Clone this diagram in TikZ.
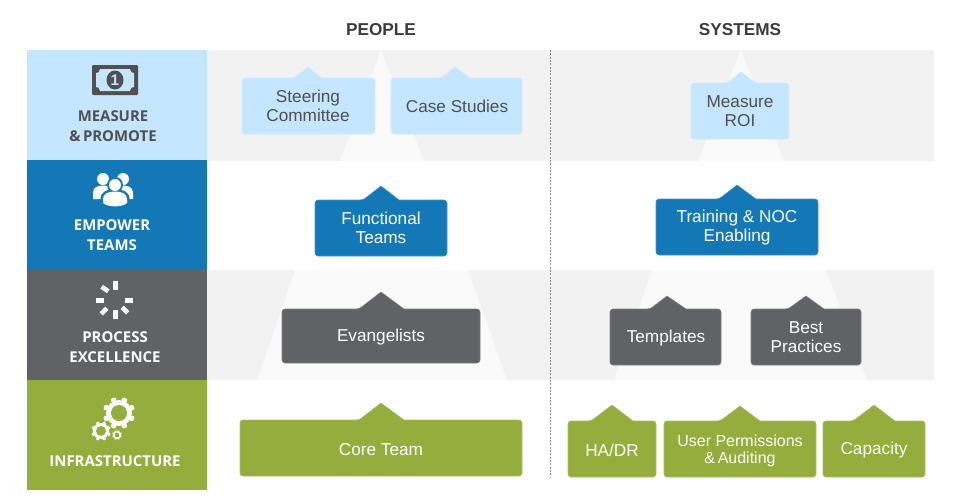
\documentclass[tikz,border=0pt]{standalone}
\usepackage{fontspec}
\setmainfont{Liberation Sans}
\newfontfamily\labfont{Open Sans}
\definecolor{lblue}{HTML}{C5E6FF}
\definecolor{mblue}{HTML}{1578B6}
\definecolor{dgray}{HTML}{616265}
\definecolor{mgreen}{HTML}{95AD3D}
\definecolor{band}{HTML}{F2F2F2}
\definecolor{pyr}{HTML}{FAFAFA}
\definecolor{inkd}{HTML}{505050}
\newcommand\tagshape[9]{%
  \filldraw[fill=#1,draw=#1!80!white,line width=0.4pt,rounded corners=2.2] (#2,#3) -- (#8,#3) [sharp corners] -- (#6,#7) -- (#9,#3) [rounded corners=2.2] -- (#4,#3) -- (#4,#5) -- (#2,#5) -- cycle;}
\newcommand\gearicon[4]{% x y body-radius hole-radius
  \begin{scope}[shift={(#1,#2)}]
    \fill[white] (0,0) circle[radius=#3];
    \foreach \a in {0,45,...,315}
      \fill[white,rotate=\a+22.5,rounded corners=0.8] (#3-1,-0.2*#3) rectangle (1.24*#3,0.2*#3);
    \fill[mgreen] (0,0) circle[radius=#4];
  \end{scope}}
\tikzset{
  boxtext/.style={align=center,inner sep=0pt,font=\fontsize{12.9}{14.25}\selectfont},
  lighttext/.style={boxtext,text=inkd},
  whitetext/.style={boxtext,text=white},
  headtext/.style={inner sep=0pt,text=HeadInk,font=\fontsize{12.9}{14}\selectfont\bfseries},
  sidelabel/.style={align=center,inner sep=0pt,font=\labfont\fontsize{11.2}{15}\selectfont\bfseries},
  dash seg/.style={fill=white}
}
\colorlet{HeadInk}{black!77}
\begin{document}
\begin{tikzpicture}[x=0.75pt,y=-0.75pt]
\useasboundingbox (0,0) rectangle (960,500);
% bands
\fill[band] (207,50) rectangle (934,161);
\fill[band] (207,270) rectangle (934,380);
% pyramids
\fill[pyr] (381,50) -- (424,161) -- (340,161) -- cycle;
\fill[pyr] (741,50) -- (784,161) -- (698,161) -- cycle;
\fill[pyr] (295,270) -- (468,270) -- (507,380) -- (257,380) -- cycle;
\fill[pyr] (652,270) -- (826,270) -- (867,380) -- (614,380) -- cycle;
% left column
\fill[lblue] (27,50) rectangle (207,160);
\fill[mblue] (27,160) rectangle (207,270);
\fill[dgray] (27,270) rectangle (207,380);
\fill[mgreen] (27,380) rectangle (207,490);
% divider
\coordinate (divtop) at (550,50);
\coordinate (divbot) at (550,478);
\draw[black!45,dash pattern=on 1.5pt off 1pt,line width=0.6pt] (divtop) -- (divbot);
% headers
\node[headtext] (people) at (381,30) {PEOPLE};
\node[headtext] (systems) at (740,30) {SYSTEMS};
% money icon
\fill[inkd,rounded corners=0.8] (92,65) rectangle (138,95);
\fill[lblue] (100,69) .. controls (100,72) and (98,73) .. (96,73) -- (96,87) .. controls (98,87) and (100,88) .. (100,91) -- (130,91) .. controls (130,88) and (132,87) .. (134,87) -- (134,73) .. controls (132,73) and (130,72) .. (130,69) -- cycle;
\fill[inkd] (115,80) ellipse[x radius=8.5,y radius=9.5];
\node[inner sep=0pt,text=lblue,font=\fontsize{11.5}{12}\selectfont\bfseries] (one) at (115,80) {1};
% people icon
\fill[white] (103,179) circle[radius=6];
\fill[white] (123,179) circle[radius=6];
\fill[white] (93,199) -- (93,193) .. controls (93,187) and (98,185.5) .. (103,185.5) .. controls (108,185.5) and (113,187) .. (113,193) -- (113,199) -- cycle;
\fill[white] (113,199) -- (113,193) .. controls (113,187) and (118,185.5) .. (123,185.5) .. controls (128,185.5) and (133,187) .. (133,193) -- (133,199) -- cycle;
\fill[mblue] (115,185) circle[radius=8];
\fill[mblue] (100.5,209) -- (100.5,199) .. controls (100.5,192) and (107,189) .. (115,189) .. controls (123,189) and (129.5,192) .. (129.5,199) -- (129.5,209) -- cycle;
\fill[white] (115,185) circle[radius=6];
\fill[white] (103,203) -- (103,199) .. controls (103,194) and (108,191.5) .. (115,191.5) .. controls (122,191.5) and (127,194) .. (127,199) -- (127,203) .. controls (122,207.5) and (108,207.5) .. (103,203) -- cycle;
% spinner icon
\fill[dash seg] (113,281) rectangle (117.5,289.5);
\fill[dash seg] (125,297.5) rectangle (133,302.5);
\fill[dash seg] (113,310) rectangle (117.5,318.5);
\fill[dash seg] (96,297.5) rectangle (104,302.5);
\fill[dash seg,rotate around={-35:(105,289)}] (101,286.7) rectangle (109,291.3);
\fill[dash seg,rotate around={45:(104,311)}] (100,308.7) rectangle (108,313.3);
\fill[dash seg,rotate around={-45:(125,310)}] (121,307.7) rectangle (129,312.3);
% gears
\gearicon{119}{413}{13}{8}
\gearicon{101}{431}{8}{5}
\gearicon{117}{435}{4.2}{2.4}
% side labels
\node[sidelabel,text=inkd] (measure) at (113,126.5) {MEASURE\\\&\,PROMOTE};
\node[sidelabel,text=white] (empower) at (112,235) {EMPOWER\\TEAMS};
\node[sidelabel,text=white] (process) at (115,347) {PROCESS\\EXCELLENCE};
\node[sidelabel,text=white] (infra) at (115,461) {INFRASTRUCTURE};
% boxes
\tagshape{lblue}{242}{78}{375}{134}{308}{67}{294}{322}
\node[lighttext] (steering) at (308,106) {Steering\\Committee};
\tagshape{lblue}{391}{78}{522}{134}{455}{67}{441}{470}
\node[lighttext] (case) at (457,106.5) {Case Studies};
\tagshape{lblue}{691}{83}{789}{139}{741}{72}{727}{756}
\node[lighttext] (roi) at (740,110.8) {Measure\\ROI};
\tagshape{mblue}{315}{200}{447}{256}{381}{186}{363}{399}
\node[whitetext] (functional) at (381,227.8) {Functional\\Teams};
\tagshape{mblue}{656}{199}{818}{255}{737}{185}{719}{756}
\node[whitetext] (training) at (737,227.8) {Training \& NOC\\Enabling};
\tagshape{dgray}{282}{309}{480}{363}{381}{292}{359}{404}
\node[whitetext] (evang) at (381,337) {Evangelists};
\tagshape{dgray}{610}{309}{721}{365}{667}{296}{650}{686}
\node[whitetext] (templates) at (666,338.5) {Templates};
\tagshape{dgray}{751}{309}{861}{365}{806}{296}{788}{824}
\node[whitetext] (best) at (806,336.8) {Best\\Practices};
\tagshape{mgreen}{240}{420}{522}{476}{381}{403}{359}{404}
\node[whitetext] (core) at (381,449.5) {Core Team};
\tagshape{mgreen}{568}{421}{656}{477}{612}{405}{591}{633}
\node[whitetext] (hadr) at (612,450.5) {HA/DR};
\tagshape{mgreen}{664}{421}{816}{477}{740}{406}{720}{760}
\node[boxtext,text=white,font=\fontsize{12}{13.2}\selectfont] (user) at (740,451) {User Permissions\\\&\,Auditing};
\tagshape{mgreen}{823}{421}{925}{477}{874}{405}{853}{895}
\node[whitetext] (capacity) at (874,450.5) {Capacity};
\end{tikzpicture}
\end{document}
